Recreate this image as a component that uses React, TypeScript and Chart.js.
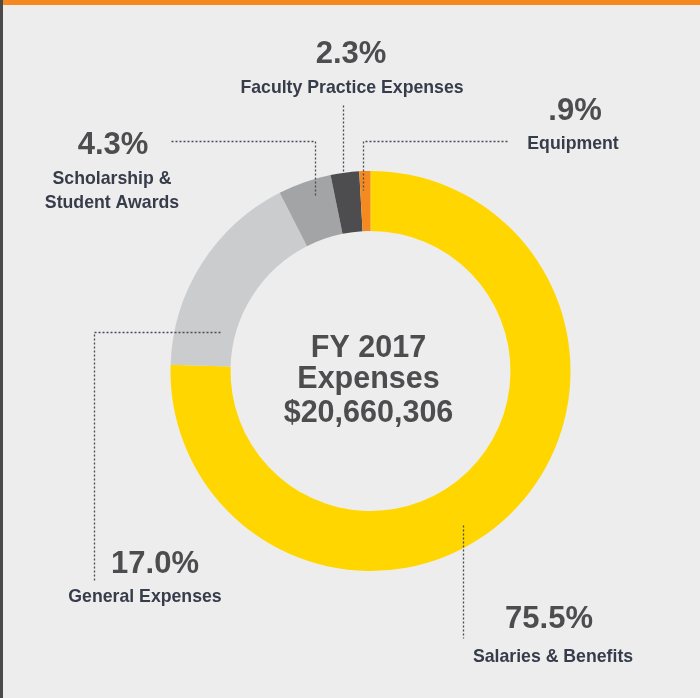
import React, { useEffect, useRef } from "react";
import { Chart, registerables } from "chart.js";

Chart.register(...registerables);

const categories = [
  "Salaries & Benefits",
  "General Expenses",
  "Scholarship & Student Awards",
  "Faculty Practice Expenses",
  "Equipment",
];
const values = [75.5, 17.0, 4.3, 2.3, 0.9];
const colors = ["#ffd600", "#cbcccd", "#a3a4a6", "#4d4d4f", "#f48a20"];
const labelLines = [
  ["Salaries & Benefits"],
  ["General Expenses"],
  ["Scholarship &", "Student Awards"],
  ["Faculty Practice Expenses"],
  ["Equipment"],
];
const centerLines = ["FY 2017", "Expenses", "$20,660,306"];

// annotation layout (canvas pixels)
const layout = [
  { px: 549, py: 628, lx: 553, ly: [662], line: [[463, 525], [463, 638]] },
  { px: 155, py: 573, lx: 145, ly: [602], line: [[94, 580], [94, 332], [220, 332]] },
  { px: 113, py: 154, lx: 112, ly: [184, 208], line: [[171, 141], [315, 141], [315, 195]] },
  { px: 351, py: 63, lx: 352, ly: [93], line: [[343, 105], [343, 190]] },
  { px: 575, py: 120, lx: 573, ly: [149], line: [[507, 141], [363, 141], [363, 190]] },
];
const centerBaselines = [357, 388, 422];

const FONT = '"Liberation Sans", Arial, Helvetica, sans-serif';

function fmtPct(v: number) {
  let s = v.toFixed(1);
  if (s.startsWith("0")) s = s.slice(1);
  return s + "%";
}

const annotationPlugin = {
  id: "annotations",
  afterDraw(chart: any) {
    const ctx = chart.ctx as CanvasRenderingContext2D;
    const area = chart.chartArea;
    const cx = (area.left + area.right) / 2;
    ctx.save();
    // leader lines
    ctx.strokeStyle = "#474c58";
    ctx.lineWidth = 1.3;
    ctx.setLineDash([2, 2]);
    layout.forEach((l) => {
      ctx.beginPath();
      l.line.forEach((p, i) => {
        if (i === 0) ctx.moveTo(p[0] + 0.5, p[1] + 0.5);
        else ctx.lineTo(p[0] + 0.5, p[1] + 0.5);
      });
      ctx.stroke();
    });
    ctx.setLineDash([]);
    ctx.textAlign = "center";
    ctx.textBaseline = "alphabetic";
    values.forEach((v, i) => {
      const l = layout[i];
      ctx.fillStyle = "#4d4d4f";
      ctx.font = `bold 31px ${FONT}`;
      ctx.fillText(fmtPct(v), l.px, l.py);
      ctx.fillStyle = "#363c4a";
      ctx.font = `bold 17.7px ${FONT}`;
      labelLines[i].forEach((t, j) => ctx.fillText(t, l.lx, l.ly[j]));
    });
    ctx.fillStyle = "#4d4d4f";
    ctx.font = `bold 30.5px ${FONT}`;
    centerLines.forEach((t, i) => ctx.fillText(t, cx - 2, centerBaselines[i]));
    ctx.restore();
  },
};

export default function App() {
  const ref = useRef<HTMLCanvasElement | null>(null);
  useEffect(() => {
    if (!ref.current) return;
    const chart = new Chart(ref.current, {
      type: "doughnut",
      data: {
        labels: categories,
        datasets: [
          {
            data: values,
            backgroundColor: colors,
            borderWidth: 0,
          },
        ],
      },
      options: {
        responsive: false,
        animation: false,
        devicePixelRatio: 1,
        cutout: "70%",
        layout: { padding: { left: 170.5, right: 129.5, top: 171, bottom: 127 } },
        plugins: {
          legend: { display: false },
          tooltip: { enabled: false },
          title: { display: false },
        },
        events: [],
      },
      plugins: [annotationPlugin],
    });
    return () => chart.destroy();
  }, []);

  return (
    <div
      style={{
        position: "fixed",
        left: 0,
        top: 0,
        width: 700,
        height: 698,
        background: "#ededed",
        overflow: "hidden",
      }}
    >
      <div style={{ position: "absolute", left: 0, top: 0, width: 3, height: 698, background: "#4a4a4a" }} />
      <div style={{ position: "absolute", left: 3, top: 0, width: 697, height: 5, background: "#f5891f" }} />
      <canvas
        ref={ref}
        width={700}
        height={698}
        style={{ position: "absolute", left: 0, top: 0, width: 700, height: 698 }}
      />
    </div>
  );
}
